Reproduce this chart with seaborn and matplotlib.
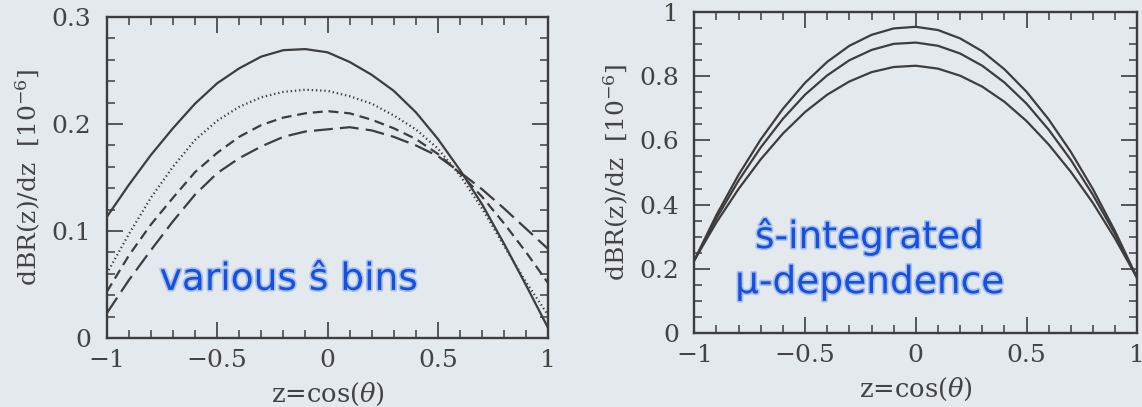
import numpy as np
import pandas as pd
import matplotlib
matplotlib.use("Agg")
import matplotlib.pyplot as plt
import matplotlib.patheffects as pe
from matplotlib.ticker import MultipleLocator, FixedLocator, FixedFormatter
import seaborn as sns

# ---------------- data ----------------
z = [-1.0, -0.9, -0.8, -0.7, -0.6, -0.5, -0.4, -0.3, -0.2, -0.1, 0.0,
     0.1, 0.2, 0.3, 0.4, 0.5, 0.6, 0.7, 0.8, 0.9, 1.0]

# left panel: dBR/dz for several s-hat bins [1e-6]
bin_solid = [0.113, 0.143, 0.171, 0.196, 0.219, 0.238, 0.252, 0.263, 0.269, 0.270, 0.267,
             0.258, 0.246, 0.231, 0.211, 0.186, 0.157, 0.125, 0.088, 0.049, 0.009]
bin_dotted = [0.060, 0.097, 0.131, 0.160, 0.185, 0.203, 0.216, 0.225, 0.230, 0.232, 0.231,
              0.226, 0.219, 0.208, 0.195, 0.177, 0.152, 0.121, 0.086, 0.052, 0.021]
bin_dashed = [0.043, 0.077, 0.106, 0.131, 0.155, 0.173, 0.188, 0.199, 0.206, 0.210, 0.212,
              0.210, 0.204, 0.196, 0.186, 0.172, 0.154, 0.132, 0.107, 0.080, 0.051]
bin_longdash = [0.023, 0.054, 0.082, 0.109, 0.134, 0.154, 0.168, 0.179, 0.188, 0.193, 0.195,
                0.197, 0.194, 0.188, 0.180, 0.170, 0.155, 0.139, 0.121, 0.102, 0.083]

# right panel: s-hat integrated, three scale choices [1e-6]
mu_high = [0.227, 0.368, 0.493, 0.603, 0.698, 0.779, 0.844, 0.894, 0.928, 0.948, 0.953,
           0.943, 0.917, 0.877, 0.821, 0.751, 0.665, 0.564, 0.448, 0.317, 0.171]
mu_mid = [0.227, 0.358, 0.475, 0.578, 0.667, 0.742, 0.802, 0.849, 0.881, 0.900, 0.904,
          0.894, 0.870, 0.832, 0.780, 0.714, 0.633, 0.539, 0.430, 0.308, 0.171]
mu_low = [0.227, 0.345, 0.449, 0.541, 0.621, 0.688, 0.742, 0.783, 0.812, 0.828, 0.832,
          0.823, 0.801, 0.767, 0.720, 0.660, 0.587, 0.502, 0.405, 0.294, 0.171]

x_ticks = [-1, -0.5, 0, 0.5, 1]
x_labels = ["\u22121", "\u22120.5", "0", "0.5", "1"]
left_yticks = [0, 0.1, 0.2, 0.3]
left_ylabels = ["0", "0.1", "0.2", "0.3"]
right_yticks = [0, 0.2, 0.4, 0.6, 0.8, 1.0]
right_ylabels = ["0", "0.2", "0.4", "0.6", "0.8", "1"]

# ---------------- style ----------------
paper = "#e4e9ee"
ink = "#3d3d3d"
label_ink = "#434343"
pen = "#1550e0"

sns.set_theme(style="ticks")
plt.rcParams["font.family"] = ["DejaVu Serif"]
plt.rcParams["mathtext.fontset"] = "dejavuserif"
plt.rcParams["axes.edgecolor"] = ink
plt.rcParams["text.color"] = ink

fig = plt.figure(figsize=(11.42, 4.07), dpi=100, facecolor=paper)
W, H = 1142.0, 407.0
ax1 = fig.add_axes([106.7 / W, (H - 338) / H, (548.3 - 106.7) / W, (338 - 17) / H])
ax2 = fig.add_axes([694.3 / W, (H - 333.3) / H, (1137.3 - 694.3) / W, (333.3 - 11.7) / H])

left_df = pd.DataFrame({"z": z, "solid": bin_solid, "dotted": bin_dotted,
                        "dashed": bin_dashed, "longdash": bin_longdash})
right_df = pd.DataFrame({"z": z, "high": mu_high, "mid": mu_mid, "low": mu_low})

styles = {"solid": "-", "dotted": (0, (0.6, 1.3)),
          "dashed": (0, (4.5, 2.6)), "longdash": (0, (8.5, 3.2))}
for col, ls in styles.items():
    sns.lineplot(data=left_df, x="z", y=col, ax=ax1, color=ink, linewidth=1.6,
                 linestyle=ls, estimator=None, sort=False)
for col in ["high", "mid", "low"]:
    sns.lineplot(data=right_df, x="z", y=col, ax=ax2, color=ink, linewidth=1.6,
                 estimator=None, sort=False)

for ax, yt, yl, ymax, yminor in [(ax1, left_yticks, left_ylabels, 0.3, 0.02),
                                  (ax2, right_yticks, right_ylabels, 1.0, 0.05)]:
    ax.set_facecolor(paper)
    ax.set_xlim(-1, 1)
    ax.set_ylim(0, ymax)
    ax.xaxis.set_major_locator(FixedLocator(x_ticks))
    ax.xaxis.set_major_formatter(FixedFormatter(x_labels))
    ax.xaxis.set_minor_locator(MultipleLocator(0.1))
    ax.yaxis.set_major_locator(FixedLocator(yt))
    ax.yaxis.set_major_formatter(FixedFormatter(yl))
    ax.yaxis.set_minor_locator(MultipleLocator(yminor))
    for sp in ax.spines.values():
        sp.set_visible(True)
        sp.set_linewidth(1.7)
        sp.set_color(ink)
    ax.tick_params(which="both", direction="in", top=True, right=True,
                   color=ink, labelcolor=label_ink)
    ax.tick_params(which="major", length=11.5, width=1.2, labelsize=18)
    ax.tick_params(which="minor", length=6, width=1.1)
    ax.tick_params(axis="x", which="major", pad=8)
    ax.tick_params(axis="y", which="major", pad=11)
    ax.set_xlabel(r"z=cos($\theta$)", fontsize=18.5, color=label_ink, labelpad=6)
    ax.set_ylabel(r"dBR(z)/dz  [10$^{-6}$]", fontsize=18, color=label_ink, labelpad=6)

# handwritten notes
note = dict(color=pen, fontsize=27, family=["DejaVu Sans"],
            path_effects=[pe.withStroke(linewidth=2.4, foreground="#a9bfee")])
ax1.text(-0.76, 0.045, "various \u015d bins", ha="left", va="baseline", **note)
ax2.text(-0.726, 0.265, "\u015d-integrated", ha="left", va="baseline", **note)
ax2.text(-0.816, 0.125, "\u03bc-dependence", ha="left", va="baseline", **note)

fig.savefig("out.png", dpi=100, facecolor=paper)
